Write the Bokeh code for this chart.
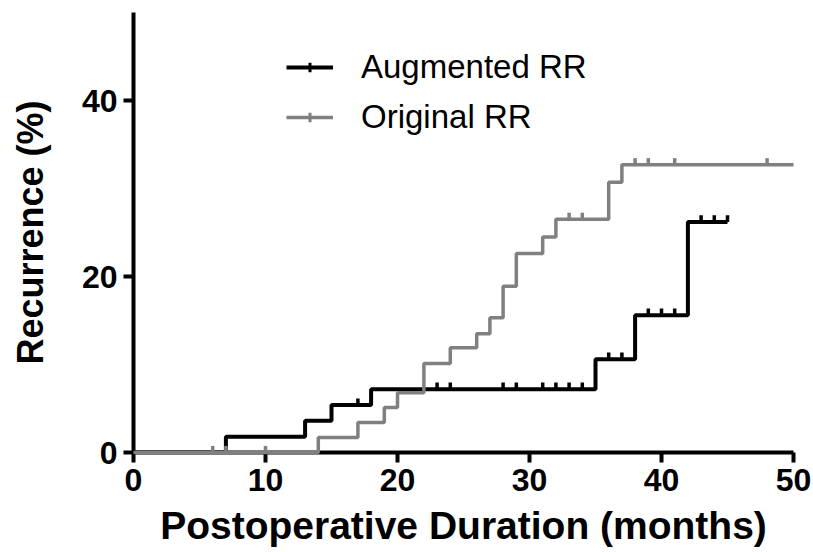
import numpy as np
from bokeh.plotting import figure
from bokeh.models import Range1d, FixedTicker, Legend, LegendItem
from bokeh.embed import file_html
from bokeh.resources import INLINE

# ---- data ----
aug_times = [0, 7, 13, 15, 18, 35, 38, 42, 45]
aug_values = [0, 1.8, 3.6, 5.4, 7.2, 10.6, 15.6, 26.2, 26.2]
aug_censor = [17, 23, 24, 28, 29, 31, 32, 33, 34, 36, 37, 39, 40, 41, 43, 44, 45]

orig_times = [0, 14, 17, 19, 20, 22, 24, 26, 27, 28, 29, 31, 32, 36, 37, 50]
orig_values = [0, 1.7, 3.4, 5.1, 6.8, 10.1, 11.9, 13.5, 15.3, 18.9, 22.6, 24.5, 26.5, 30.7, 32.7, 32.7]
orig_censor = [6, 7, 10, 33, 34, 38, 39, 41, 48]

x_ticks = [0, 10, 20, 30, 40, 50]
y_ticks = [0, 20, 40]

FONT = "Liberation Sans"
BLACK = "#000000"
GRAY = "#808080"


def censor_levels(times, values, cens):
    idx = np.searchsorted(np.array(times), np.array(cens), side="right") - 1
    return [values[i] for i in idx]


p = figure(width=813, height=552, output_backend="svg", toolbar_location=None,
           x_range=Range1d(0, 50), y_range=Range1d(0, 50),
           min_border_left=133, min_border_right=20, min_border_top=12, min_border_bottom=100)
p.outline_line_color = None
p.grid.visible = False
p.background_fill_color = "white"
# off-screen range used only so that legend swatches get a censor-tick marker
p.extra_y_ranges = {"legend_only": Range1d(1000, 2000)}

TICK_H = 0.75  # censor tick height in % units

# Augmented RR (black)
r_aug = p.step(aug_times, aug_values, mode="after", line_color=BLACK, line_width=4)
a_y = censor_levels(aug_times, aug_values, aug_censor)
p.segment(x0=aug_censor, y0=a_y, x1=aug_censor, y1=[v + TICK_H for v in a_y],
          line_color=BLACK, line_width=3.5)

# Original RR (gray)
r_orig = p.step(orig_times, orig_values, mode="after", line_color=GRAY, line_width=3.5,
                level="overlay")
o_y = censor_levels(orig_times, orig_values, orig_censor)
p.segment(x0=orig_censor, y0=o_y, x1=orig_censor, y1=[v + TICK_H for v in o_y],
          line_color=GRAY, line_width=3.5, level="overlay")

# legend tick markers (drawn on the off-screen range, so they only show in the legend)
d_aug = p.scatter(x=aug_censor, y=a_y, marker="cross", size=10, line_color=BLACK,
                  line_width=3, y_range_name="legend_only")
d_orig = p.scatter(x=orig_censor, y=o_y, marker="cross", size=9, line_color=GRAY,
                   line_width=3, y_range_name="legend_only")

legend = Legend(items=[LegendItem(label="Augmented RR", renderers=[r_aug, d_aug]),
                       LegendItem(label="Original RR", renderers=[r_orig, d_orig])],
                location=(153, 316), glyph_width=47, glyph_height=24, label_height=24,
                label_width=10, spacing=12, label_standoff=28, padding=0, margin=0,
                border_line_color=None, background_fill_alpha=0,
                label_text_font=FONT, label_text_font_size="33px", label_text_color="black")
p.add_layout(legend)

for ax in (p.xaxis, p.yaxis):
    ax.axis_line_width = 4
    ax.axis_line_color = "black"
    ax.major_tick_line_width = 4
    ax.major_tick_line_color = "black"
    ax.major_tick_out = 10
    ax.major_tick_in = 0
    ax.minor_tick_out = 0
    ax.minor_tick_in = 0
    ax.major_label_text_font = FONT
    ax.major_label_text_font_style = "bold"
    ax.major_label_text_font_size = "32px"
    ax.major_label_text_color = "black"
    ax.axis_label_text_font = FONT
    ax.axis_label_text_font_style = "bold"
    ax.axis_label_text_color = "black"

p.xaxis.axis_label_text_font_size = "39px"
p.yaxis.axis_label_text_font_size = "36px"
p.xaxis.ticker = FixedTicker(ticks=x_ticks)
p.yaxis.ticker = FixedTicker(ticks=y_ticks)
p.xaxis.axis_label = "Postoperative Duration (months)"
p.yaxis.axis_label = "Recurrence (%)"
p.xaxis.major_label_standoff = 6
p.yaxis.major_label_standoff = 6
p.xaxis.axis_label_standoff = 10
p.yaxis.axis_label_standoff = 28

open("out.html", "w").write(file_html(p, INLINE))
